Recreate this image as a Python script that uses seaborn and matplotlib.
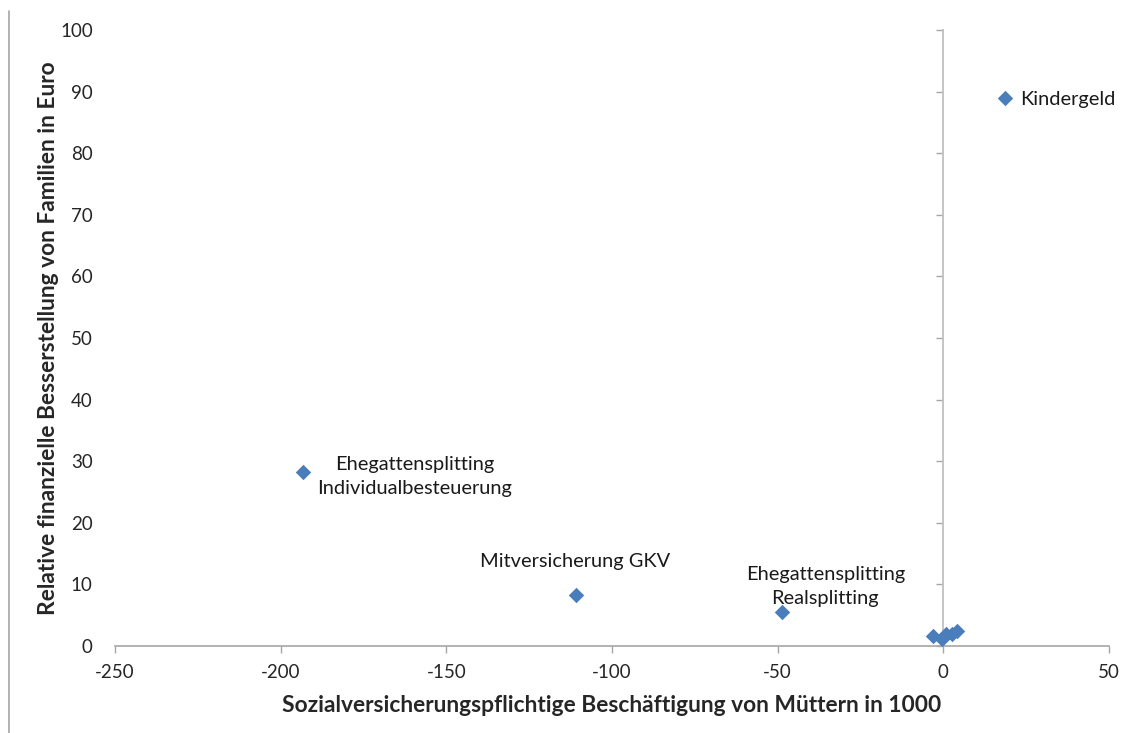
import matplotlib
matplotlib.use("Agg")
import matplotlib.pyplot as plt
import matplotlib.lines as mlines
import seaborn as sns
import pandas as pd

# Data
instruments = ["Kindergeld", "Ehegattensplitting\nIndividualbesteuerung", "Mitversicherung GKV",
               "Ehegattensplitting\nRealsplitting", "", "", "", "", ""]
x_vals = [18.7, -193.4, -111.0, -48.6, -3.0, -0.5, 0.8, 2.7, 4.0]
y_vals = [89.0, 28.2, 8.3, 5.5, 1.7, 1.1, 1.9, 2.0, 2.4]
x_ticks = [-250, -200, -150, -100, -50, 0, 50]
y_ticks = [0, 10, 20, 30, 40, 50, 60, 70, 80, 90, 100]
x_label = "Sozialversicherungspflichtige Beschäftigung von Müttern in 1000"
y_label = "Relative finanzielle Besserstellung von Familien in Euro"

df = pd.DataFrame({"x": x_vals, "y": y_vals, "label": instruments})

sns.set_theme(style="white")
plt.rcParams["font.family"] = ["Lato", "DejaVu Sans"]
plt.rcParams["axes.unicode_minus"] = False

fig = plt.figure(figsize=(11.33, 7.33), dpi=100)
ax = fig.add_axes([0.1015, 0.1187, 0.8773, 0.8403])

sns.scatterplot(data=df, x="x", y="y", marker="D", s=62, color="#4a7ebb",
                edgecolor="#4a7ebb", linewidth=0, ax=ax, zorder=3)

ax.set_xlim(-250, 50)
ax.set_ylim(0, 100)
ax.set_xticks(x_ticks)
ax.set_yticks(y_ticks)
ax.tick_params(axis="x", labelsize=13.5, length=5, width=1, color="#a6a6a6", pad=8, direction="out")
ax.tick_params(axis="y", labelsize=13.5, length=0, pad=16)
for s in ["top", "right", "left"]:
    ax.spines[s].set_visible(False)
ax.spines["bottom"].set_color("#a6a6a6")
ax.spines["bottom"].set_linewidth(1.2)
ax.xaxis.set_ticks_position("bottom")

# vertical axis at x = 0 with ticks pointing left, labels kept at left
frac = (0 - (-250)) / (50 - (-250))
sec = ax.secondary_yaxis(frac)
sec.set_yticks(y_ticks)
sec.set_yticklabels([])
for sp in sec.spines.values():
    sp.set_color("#c0c0c0")
    sp.set_linewidth(1.3)
sec.tick_params(axis="y", length=5, width=1, color="#a6a6a6", direction="in",
                labelleft=False, labelright=False)

ax.set_xlabel(x_label, fontsize=16.4, fontweight="bold", labelpad=10)
ax.set_ylabel(y_label, fontsize=16.4, fontweight="bold", labelpad=1)

# annotations (offsets in pixels)
ann = {
    0: dict(dx=15, dy=-2, ha="left", va="center"),
    1: dict(dx=112, dy=-4, ha="center", va="center"),
    2: dict(dx=0, dy=33, ha="center", va="center"),
    3: dict(dx=43, dy=26, ha="center", va="center"),
}
for i, o in ann.items():
    ax.annotate(instruments[i], (x_vals[i], y_vals[i]), xytext=(o["dx"] * 0.72, o["dy"] * 0.72),
                textcoords="offset points", ha=o["ha"], va=o["va"], fontsize=14.4,
                color="#1a1a1a", linespacing=1.5, multialignment="center")

# page border line at left
fig.add_artist(mlines.Line2D([0.008, 0.008], [0.0, 0.985], color="#a6a6a6", linewidth=1.2,
                             transform=fig.transFigure))

fig.savefig("out.png", dpi=100, facecolor="white")
